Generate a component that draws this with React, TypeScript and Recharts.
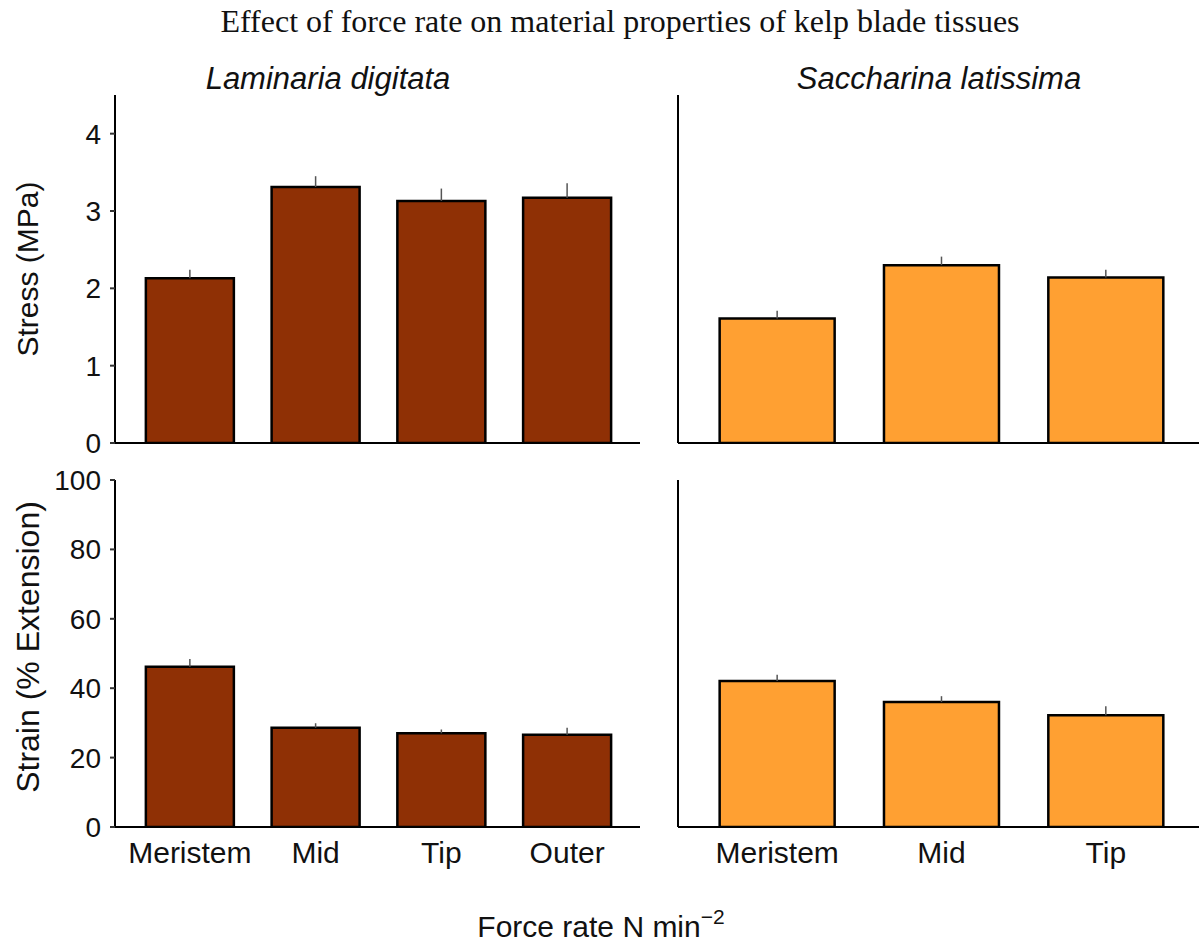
import { BarChart, Bar, XAxis, YAxis, ErrorBar } from 'recharts';

const ldCats = ['Meristem', 'Mid', 'Tip', 'Outer'];
const ldStress = [2.13, 3.31, 3.13, 3.17];
const ldStressSe = [0.11, 0.14, 0.16, 0.19];
const ldStrain = [46.2, 28.6, 27.0, 26.6];
const ldStrainSe = [2.2, 1.3, 1.1, 2.0];

const slCats = ['Meristem', 'Mid', 'Tip'];
const slStress = [1.61, 2.3, 2.14];
const slStressSe = [0.1, 0.11, 0.1];
const slStrain = [42.1, 36.0, 32.2];
const slStrainSe = [1.8, 1.7, 2.6];

const stressTicks = [0, 1, 2, 3, 4];
const strainTicks = [0, 20, 40, 60, 80, 100];

const BROWN = '#8F3005';
const ORANGE = '#FFA032';
const SANS = '"Liberation Sans", Arial, sans-serif';

const rows = (cats: string[], vals: number[], se: number[]) =>
  cats.map((name, i) => ({ name, value: vals[i], err: [0, se[i]] }));

type PanelProps = {
  data: { name: string; value: number; err: number[] }[];
  fill: string;
  width: number;
  height: number;
  margin: { top: number; right: number; left: number; bottom: number };
  yWidth: number;
  domain: [number, number];
  ticks: number[];
  showY: boolean;
  showX: boolean;
  pad: { left: number; right: number };
};

function Panel(p: PanelProps) {
  return (
    <BarChart width={p.width} height={p.height} data={p.data} margin={p.margin} barCategoryGap="15%">
      <XAxis
        dataKey="name"
        padding={p.pad}
        height={p.showX ? 43 : 16}
        tickLine={false}
        tickSize={0}
        tickMargin={15}
        axisLine={{ stroke: '#000', strokeWidth: 2 }}
        tick={p.showX ? { fontSize: 30, fill: '#111', fontFamily: SANS } : false}
        interval={0}
      />
      <YAxis
        width={p.yWidth}
        domain={p.domain}
        ticks={p.ticks}
        type="number"
        allowDataOverflow
        interval={0}
        tickSize={5}
        tickMargin={9}
        tickLine={{ stroke: '#333', strokeWidth: 2 }}
        axisLine={{ stroke: '#000', strokeWidth: 2 }}
        tick={p.showY ? { fontSize: 28, fill: '#111', fontFamily: SANS } : false}
      />
      <Bar dataKey="value" fill={p.fill} stroke="#000" strokeWidth={2.5} isAnimationActive={false}>
        <ErrorBar dataKey="err" width={0} stroke="#555" strokeWidth={1.5} direction="y" />
      </Bar>
    </BarChart>
  );
}

export default function App() {
  return (
    <div style={{ position: 'absolute', left: 0, top: 0, width: 1199, height: 946, overflow: 'hidden', background: '#fff' }}>
      <div style={{ position: 'absolute', left: 0, top: 0 }}>
        <Panel
          data={rows(ldCats, ldStress, ldStressSe)}
          fill={BROWN}
          width={660}
          height={462}
          margin={{ top: 95, right: 20, left: 0, bottom: 3 }}
          yWidth={115}
          domain={[0, 4.5]}
          ticks={stressTicks}
          showY
          showX={false}
          pad={{ left: 12, right: 10 }}
        />
      </div>
      <div style={{ position: 'absolute', left: 660, top: 0 }}>
        <Panel
          data={rows(slCats, slStress, slStressSe)}
          fill={ORANGE}
          width={539}
          height={462}
          margin={{ top: 95, right: 0, left: 0, bottom: 3 }}
          yWidth={18}
          domain={[0, 4.5]}
          ticks={stressTicks}
          showY={false}
          showX={false}
          pad={{ left: 17, right: 11 }}
        />
      </div>
      <div style={{ position: 'absolute', left: 0, top: 450 }}>
        <Panel
          data={rows(ldCats, ldStrain, ldStrainSe)}
          fill={BROWN}
          width={660}
          height={420}
          margin={{ top: 30, right: 20, left: 0, bottom: 0 }}
          yWidth={115}
          domain={[0, 100]}
          ticks={strainTicks}
          showY
          showX
          pad={{ left: 12, right: 10 }}
        />
      </div>
      <div style={{ position: 'absolute', left: 660, top: 450 }}>
        <Panel
          data={rows(slCats, slStrain, slStrainSe)}
          fill={ORANGE}
          width={539}
          height={420}
          margin={{ top: 30, right: 0, left: 0, bottom: 0 }}
          yWidth={18}
          domain={[0, 100]}
          ticks={strainTicks}
          showY={false}
          showX
          pad={{ left: 17, right: 11 }}
        />
      </div>
      <svg width={1199} height={946} style={{ position: 'absolute', left: 0, top: 0, pointerEvents: 'none' }}>
        <text x={620} y={32} textAnchor="middle" fontFamily='"Liberation Serif", "Times New Roman", serif' fontSize={32} fill="#111">
          Effect of force rate on material properties of kelp blade tissues
        </text>
        <text x={328} y={89} textAnchor="middle" fontFamily={SANS} fontStyle="italic" fontSize={31} fill="#111">
          Laminaria digitata
        </text>
        <text x={939} y={89} textAnchor="middle" fontFamily={SANS} fontStyle="italic" fontSize={31} fill="#111">
          Saccharina latissima
        </text>
        <text x={38} y={269} transform="rotate(-90 38 269)" textAnchor="middle" fontFamily={SANS} fontSize={30} fill="#111">
          Stress (MPa)
        </text>
        <text x={39} y={647} transform="rotate(-90 39 647)" textAnchor="middle" fontFamily={SANS} fontSize={32} fill="#111">
          Strain (% Extension)
        </text>
        <text x={601} y={937} textAnchor="middle" fontFamily={SANS} fontSize={30} fill="#111">
          Force rate N min
          <tspan fontSize={21} dy={-13}>−2</tspan>
        </text>
      </svg>
    </div>
  );
}
